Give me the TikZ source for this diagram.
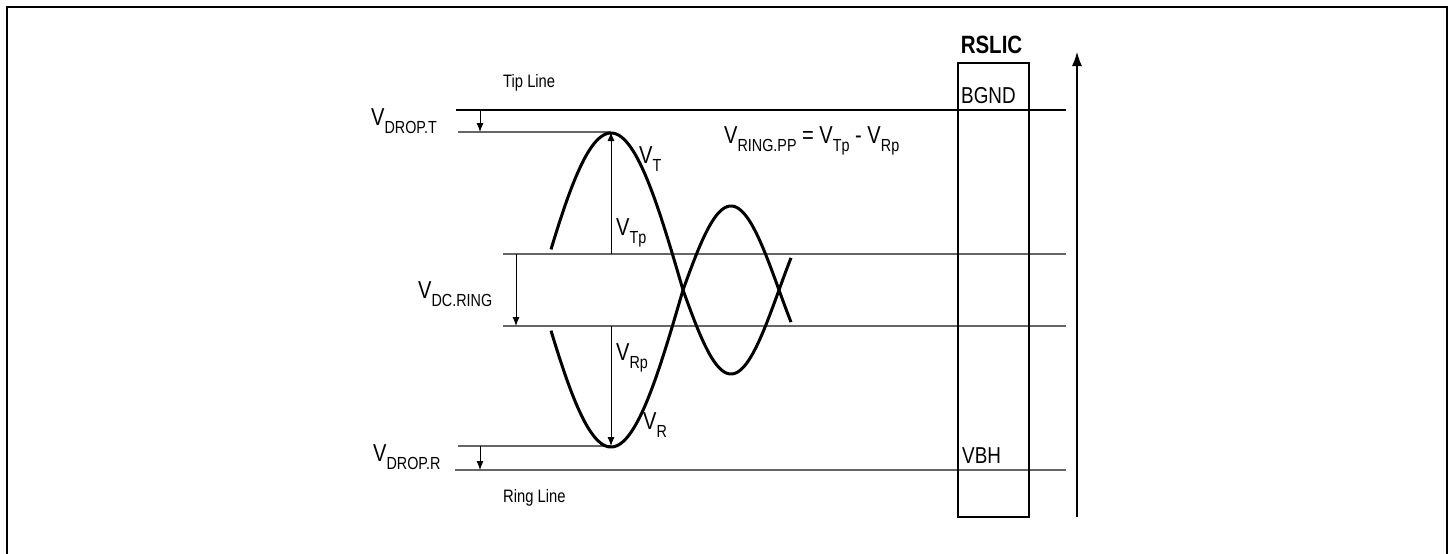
\documentclass[tikz,border=0pt]{standalone}
\usepackage{fontspec}
\setmainfont{Liberation Sans}[FakeStretch=0.82]
\usetikzlibrary{arrows.meta}
\newcommand{\VV}[1]{V\raisebox{-8.5pt}{\fontsize{17.5}{17.5}\selectfont #1}}
\begin{document}
\begin{tikzpicture}[x=1pt,y=-1pt,
  big/.style={font=\fontsize{24.5}{24.5}\selectfont, inner sep=0pt, anchor=base west},
  box/.style={font=\fontsize{23}{23}\selectfont, inner sep=0pt, anchor=base west},
  small/.style={font=\fontsize{18}{18}\selectfont, inner sep=0pt, anchor=base west},
  hline/.style={line width=1.2pt},
  gline/.style={line width=1.5pt, black!60},
  wave/.style={line width=3pt, line join=round},
  sarrow/.style={line width=0.9pt, -{Latex[length=9pt,width=7pt]}},
  barrow/.style={line width=1.2pt, -{Latex[length=14pt,width=10pt]}}]
\useasboundingbox (0,0) rectangle (1448,554);
\begin{scope}
\clip (0,0) rectangle (1448,554);
\draw[line width=2pt] (7,570) -- (7,7) -- (1447,7) -- (1447,570);
\end{scope}

% coordinates
\coordinate (tipL) at (456,110);  \coordinate (tipR) at (1066,110);
\coordinate (dtL) at (458,132);   \coordinate (peakT) at (611,132);
\coordinate (dcuL) at (503,254);  \coordinate (dcuR) at (1066,254);
\coordinate (dclL) at (503,326);  \coordinate (dclR) at (1066,326);
\coordinate (drL) at (458,446);   \coordinate (peakR) at (611,446);
\coordinate (rngL) at (455,470);  \coordinate (rngR) at (1066,470);
\coordinate (a1s) at (480,110);   \coordinate (a1e) at (480,132);
\coordinate (a2s) at (516,254);   \coordinate (a2e) at (516,326);
\coordinate (a3s) at (480,446);   \coordinate (a3e) at (480,470);
\coordinate (vtp) at (611,254);   \coordinate (vrp) at (611,326);
\coordinate (axS) at (1077,517);  \coordinate (axE) at (1077,52);

% horizontal lines
\draw[hline] (tipL) -- (tipR);
\draw[gline] (dtL) -- (peakT);
\draw[gline] (dcuL) -- (dcuR);
\draw[gline] (dclL) -- (dclR);
\draw[gline] (drL) -- (peakR);
\draw[gline] (rngL) -- (rngR);

% arrows
\draw[sarrow] (a1s) -- (a1e);
\draw[sarrow] (a2s) -- (a2e);
\draw[sarrow] (a3s) -- (a3e);
\draw[sarrow] (vtp) -- (peakT);
\draw[sarrow] (vrp) -- (peakR);
\draw[barrow] (axS) -- (axE);

% waves
\draw[wave] plot[domain=551:683,samples=80] (\x,{290-157*sin((\x-539)/144*180)})
  -- plot[domain=683:791,samples=60] (\x,{290+84*sin((\x-683)/96*180)});
\draw[wave] plot[domain=551:683,samples=80] (\x,{290+157*sin((\x-539)/144*180)})
  -- plot[domain=683:791,samples=60] (\x,{290-84*sin((\x-683)/96*180)});

% RSLIC box
\node[draw, line width=1.5pt, minimum width=71pt, minimum height=454pt, inner sep=0pt] (rbox) at (993.5,290) {};
\node[font=\bfseries\fontsize{25}{25}\selectfont, inner sep=0pt, anchor=base] (rslic) at (991.5,53) {RSLIC};
\node[box] (bgnd) at (961,103) {BGND};
\node[box] (vbh) at (962,463) {VBH};

% labels
\node[small] (tipline) at (503,87) {Tip Line};
\node[small] (ringline) at (503,502) {Ring Line};
\node[big] (ldt) at (371,125) {\VV{DROP.T}};
\node[big] (ldc) at (418,298) {\VV{DC.RING}};
\node[big] (ldr) at (373,461) {\VV{DROP.R}};
\node[big] (lvt) at (639,163) {\VV{T}};
\node[big] (lvtp) at (616,235) {\VV{Tp}};
\node[big] (lvrp) at (616,360) {\VV{Rp}};
\node[big] (lvr) at (643,429) {\VV{R}};
\node[big] (eq) at (724,143) {\VV{RING.PP} = \VV{Tp} - \VV{Rp}};
\end{tikzpicture}
\end{document}
